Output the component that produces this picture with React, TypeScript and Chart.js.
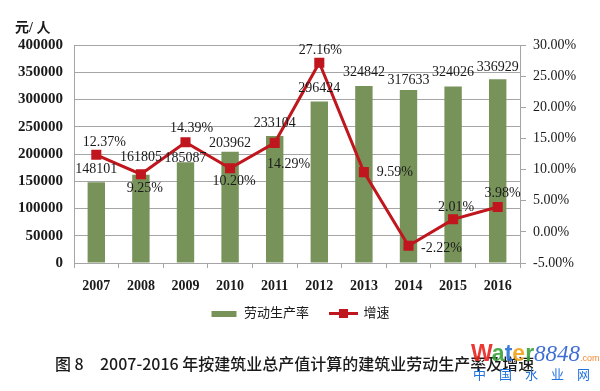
import React, { useEffect, useRef } from 'react';
import { Chart, registerables } from 'chart.js';
Chart.register(...registerables);

// ---- data ----
const years = ['2007', '2008', '2009', '2010', '2011', '2012', '2013', '2014', '2015', '2016'];
const productivity = [148101, 161805, 185087, 203962, 233104, 296424, 324842, 317633, 324026, 336929];
const growth = [12.37, 9.25, 14.39, 10.2, 14.29, 27.16, 9.59, -2.22, 2.01, 3.98];
const seriesNames = ['劳动生产率', '增速'];
const unitLabel = '元/ 人';
const captionHead = '图 8';
const captionBody = '2007-2016 年按建筑业总产值计算的建筑业劳动生产率及增速';

// ---- label placement (px, relative to marks) ----
const barLabelLift = [13, 17, 4, 9, 13, 13, 14, 10, 14, 12];
const growthLabelDx = [8, 4, 6, 4, 14, 1, 31, 33, 3, 5];
const growthLabelDy = [-12, 14, -14, 13, 21, -12, 0, 3, -12, -14];

const GREEN = '#77935a';
const RED = '#c0161e';
const GRID = '#a5a5a5';
const INK = '#1a1a1a';
const SERIF = '"Liberation Serif", "Times New Roman", serif';
const MIXED = '"Liberation Serif", "Noto Sans CJK SC", serif';
const SWATCH_W = 27;

function makeSwatch(kind: 'bar' | 'line'): HTMLCanvasElement {
  const c = document.createElement('canvas');
  if (kind === 'bar') {
    c.width = SWATCH_W; c.height = 6;
    const g = c.getContext('2d')!;
    g.fillStyle = GREEN; g.fillRect(1, 0, 25, 6);
  } else {
    c.width = 29; c.height = 9;
    const g = c.getContext('2d')!;
    g.fillStyle = RED; g.fillRect(0, 3, 29, 3);
    g.fillRect(10, 0, 9, 9);
  }
  return c;
}

const labelPlugin = {
  id: 'valueLabels',
  afterLayout(chart: any) {
    // lift the legend row so its text sits just under the axis labels
    const lg = chart.legend;
    if (lg) { lg.top -= 12; lg.bottom -= 12; }
  },
  afterDatasetsDraw(chart: any) {
    const ctx = chart.ctx;
    const barMeta = chart.getDatasetMeta(0);
    const lineMeta = chart.getDatasetMeta(1);
    ctx.save();
    ctx.fillStyle = INK;
    ctx.font = '14px ' + SERIF;
    ctx.textAlign = 'center';
    ctx.textBaseline = 'middle';
    barMeta.data.forEach((el: any, i: number) => {
      ctx.fillText(String(productivity[i]), el.x, el.y - barLabelLift[i]);
    });
    lineMeta.data.forEach((el: any, i: number) => {
      ctx.fillText(growth[i].toFixed(2) + '%', el.x + growthLabelDx[i], el.y + growthLabelDy[i]);
    });
    ctx.restore();
  },
  afterDraw(chart: any) {
    const ctx = chart.ctx;
    ctx.save();
    ctx.fillStyle = INK;
    ctx.font = 'bold 14px ' + MIXED;
    ctx.textAlign = 'left';
    ctx.textBaseline = 'middle';
    ctx.fillText(unitLabel, 15, 28);
    ctx.restore();
  },
};

export default function App() {
  const ref = useRef<HTMLCanvasElement | null>(null);
  useEffect(() => {
    if (!ref.current) return;
    const barSwatch = makeSwatch('bar');
    const lineSwatch = makeSwatch('line');
    const chart = new Chart(ref.current, {
      type: 'bar',
      data: {
        labels: years,
        datasets: [
          {
            type: 'bar',
            label: seriesNames[0],
            data: productivity,
            backgroundColor: GREEN,
            yAxisID: 'y',
            barPercentage: 0.78,
            categoryPercentage: 0.5,
            order: 1,
          },
          {
            type: 'line',
            label: seriesNames[1],
            data: growth,
            borderColor: RED,
            backgroundColor: RED,
            borderWidth: 3,
            pointStyle: 'rect',
            pointRadius: 5,
            pointBackgroundColor: RED,
            pointBorderColor: RED,
            yAxisID: 'y1',
            order: 0,
          } as any,
        ],
      },
      options: {
        animation: false,
        responsive: false,
        layout: { padding: { top: 45, left: 0, right: 0, bottom: 49 } },
        plugins: {
          tooltip: { enabled: false },
          legend: {
            position: 'bottom',
            labels: {
              usePointStyle: true,
              pointStyleWidth: SWATCH_W,
              padding: 21,
              color: INK,
              font: { size: 13, family: MIXED },
              generateLabels: () => [
                { text: seriesNames[0], pointStyle: barSwatch, datasetIndex: 0, fillStyle: GREEN, strokeStyle: GREEN, lineWidth: 0, hidden: false, fontColor: INK } as any,
                { text: seriesNames[1], pointStyle: lineSwatch, datasetIndex: 1, fillStyle: RED, strokeStyle: RED, lineWidth: 0, hidden: false, fontColor: INK } as any,
              ],
            },
          },
        },
        scales: {
          x: {
            grid: { offset: true, drawOnChartArea: false, color: GRID, tickLength: 5 },
            border: { color: GRID },
            ticks: { color: INK, font: { size: 14, weight: 'bold', family: SERIF }, padding: 10 },
            afterFit: (s: any) => { s.height = 35; },
          },
          y: {
            position: 'left',
            min: 0,
            max: 400000,
            ticks: {
              stepSize: 50000,
              color: INK,
              font: { size: 15, weight: 'bold', family: SERIF },
              padding: 11,
              callback: (v: any) => String(v),
            },
            grid: { color: GRID, drawTicks: false },
            border: { color: GRID },
            afterFit: (s: any) => { s.width = 74; },
          },
          y1: {
            position: 'right',
            min: -5,
            max: 30,
            ticks: {
              stepSize: 5,
              color: INK,
              font: { size: 14, family: SERIF },
              padding: 7,
              callback: (v: any) => Number(v).toFixed(2) + '%',
            },
            grid: { drawOnChartArea: false, color: GRID, tickLength: 6 },
            border: { color: GRID },
            afterFit: (s: any) => { s.width = 80; },
          },
        },
      } as any,
      plugins: [labelPlugin],
    });
    return () => chart.destroy();
  }, []);

  const capStyle: React.CSSProperties = {
    position: 'absolute', top: 352, fontFamily: '"Noto Sans CJK SC", sans-serif',
    fontSize: 16, fontWeight: 500, color: INK, whiteSpace: 'pre', lineHeight: '22px',
  };

  return (
    <div style={{ position: 'fixed', left: 0, top: 0, width: 600, height: 391, background: '#fff', overflow: 'hidden' }}>
      <canvas ref={ref} width={600} height={391} style={{ width: 600, height: 391, display: 'block' }} />
      <div style={{ ...capStyle, left: 55 }}>{captionHead}</div>
      <div style={{ ...capStyle, left: 100 }}>{captionBody}</div>
      <div style={{ position: 'absolute', left: 471, top: 340, whiteSpace: 'nowrap', lineHeight: '26px', opacity: 0.9 }}>
        <span style={{ fontFamily: 'Arial, "Liberation Sans", sans-serif', fontWeight: 'bold', fontSize: 23 }}>
          <span style={{ color: '#e8231e' }}>W</span>
          <span style={{ color: '#3aa23a' }}>a</span>
          <span style={{ color: '#2a6fd6' }}>t</span>
          <span style={{ color: '#f2a21b' }}>e</span>
          <span style={{ color: '#3aa23a' }}>r</span>
        </span>
        <span style={{ fontFamily: SERIF, fontStyle: 'italic', fontSize: 23, color: '#2a5fd0' }}>8848</span>
        <span style={{ fontFamily: 'Arial, sans-serif', fontSize: 9, color: '#f07a1a' }}>.com</span>
      </div>
      <div
        style={{
          position: 'absolute', left: 473, top: 366, fontFamily: '"Noto Sans CJK SC", sans-serif',
          fontSize: 13, color: '#1f73e0', letterSpacing: 13, whiteSpace: 'nowrap', lineHeight: '16px',
        }}
      >
        中国水业网
      </div>
    </div>
  );
}
